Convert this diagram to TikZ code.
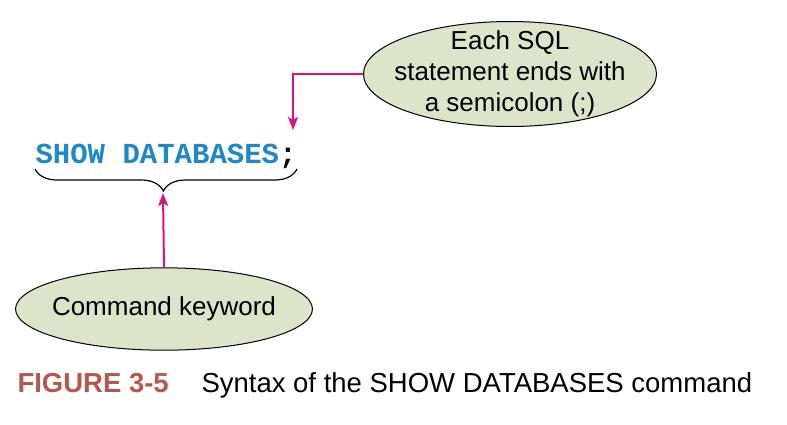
\documentclass[tikz,border=0pt]{standalone}
\usepackage{fontspec}
\setmainfont{Liberation Sans}
\newfontfamily\codefont{Liberation Mono}
\usetikzlibrary{shapes.geometric, arrows.meta, decorations.pathreplacing}

\definecolor{notefill}{RGB}{221,228,201}
\definecolor{callout}{RGB}{222,16,128}
\definecolor{sqlblue}{RGB}{30,136,200}
\definecolor{figred}{RGB}{181,87,74}

\begin{document}
\begin{tikzpicture}
[x=1pt, y=-1pt, line width=1pt,
note/.style={ellipse, draw=black, fill=notefill, align=center,
    font=\fontsize{26}{31}\selectfont},
pointer/.style={draw=callout, line width=2pt,
    -{Stealth[length=13pt, width=10pt, inset=3pt]}}]

\useasboundingbox (0,0) rectangle (787,424);

\node[note, inner xsep=-12pt, inner ysep=-6pt] (semi) at (510,74)
    {Each SQL\\statement ends with\\a semicolon (;)};
\node[note, inner xsep=-7pt, inner ysep=17pt] (keyword) at (164,309)
    {Command keyword};

\node[anchor=base west, inner sep=0pt, font=\codefont\bfseries\fontsize{29}{29}\selectfont]
    (cmd) at (35,163) {\textcolor{sqlblue}{SHOW DATABASES};};

\coordinate (bl) at (35,169);
\coordinate (br) at (297,169);
\coordinate (tip) at (163,193);
\coordinate (semitip) at (293,130);

\draw[line width=1.2pt, decorate, decoration={brace, mirror, amplitude=22pt, aspect=0.49}]
    (bl) -- (br);

\draw[pointer] (semi.west) -| (semitip);
\draw[pointer] (keyword.north) -- (tip);

\node[anchor=base west, inner sep=0pt, text=figred, font=\bfseries\fontsize{27.5}{27.5}\selectfont]
    (figlabel) at (17,392) {FIGURE 3-5};
\node[anchor=base west, inner sep=0pt, font=\fontsize{27.5}{27.5}\selectfont]
    (figtext) at (201,392) {Syntax of the SHOW DATABASES command};

\end{tikzpicture}
\end{document}
